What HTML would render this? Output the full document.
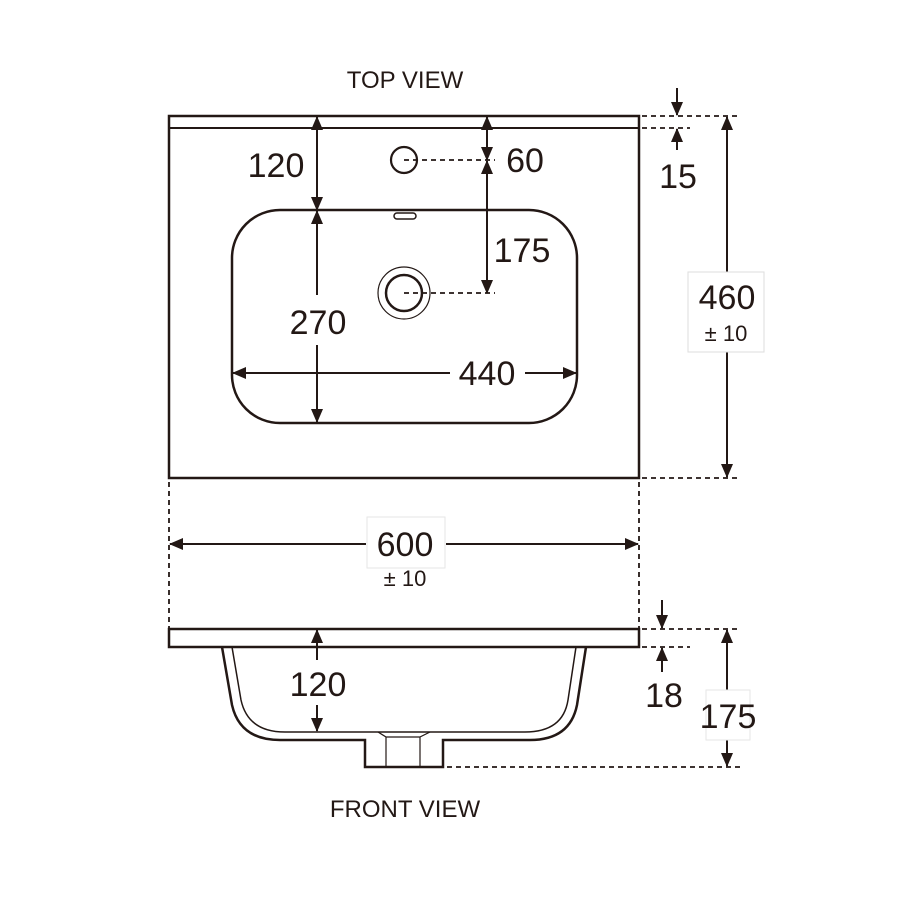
<!DOCTYPE html>
<html><head><meta charset="utf-8"><style>
html,body{margin:0;padding:0;background:#fff;}
svg{display:block}
text{font-family:"Liberation Sans",sans-serif;fill:#231815}
</style></head><body>
<svg width="900" height="900" viewBox="0 0 900 900" xmlns="http://www.w3.org/2000/svg">
<defs>
<marker id="a" viewBox="0 0 14 12" refX="13" refY="6" markerWidth="14" markerHeight="12" markerUnits="userSpaceOnUse" orient="auto"><path d="M0,0 L14,6 L0,12 z" fill="#231815"/></marker>
</defs>
<g stroke="#231815" fill="none">
<!-- top view -->
<rect x="169" y="116" width="470" height="362" stroke-width="2.5"/>
<line x1="169" y1="128" x2="639" y2="128" stroke-width="2"/>
<rect x="232" y="210" width="345" height="213" rx="48" ry="48" stroke-width="2.5"/>
<rect x="394" y="213" width="22" height="6" rx="3" stroke-width="1.5"/>
<circle cx="404" cy="160" r="13" stroke-width="2.2"/>
<circle cx="404" cy="293" r="26" stroke-width="1.2"/>
<circle cx="404" cy="293" r="18" stroke-width="2.5"/>
<g stroke-dasharray="5,4" stroke-width="1.8">
<line x1="404" y1="160" x2="495" y2="160"/>
<line x1="404" y1="293" x2="495" y2="293"/>
<line x1="642" y1="116" x2="740" y2="116"/>
<line x1="642" y1="128" x2="690" y2="128"/>
<line x1="642" y1="478" x2="740" y2="478"/>
<line x1="169" y1="482" x2="169" y2="628"/>
<line x1="639" y1="482" x2="639" y2="628"/>
<line x1="642" y1="629" x2="740" y2="629"/>
<line x1="642" y1="647" x2="690" y2="647"/>
<line x1="420" y1="767" x2="740" y2="767"/>
</g>
<g stroke-width="2" marker-end="url(#a)">
<line x1="317" y1="165" x2="317" y2="210"/>
<line x1="317" y1="165" x2="317" y2="117"/>
<line x1="317" y1="295" x2="317" y2="211"/>
<line x1="317" y1="345" x2="317" y2="422"/>
<line x1="487" y1="140" x2="487" y2="160"/>
<line x1="487" y1="140" x2="487" y2="117"/>
<line x1="487" y1="230" x2="487" y2="161"/>
<line x1="487" y1="230" x2="487" y2="293"/>
<line x1="450" y1="373" x2="233" y2="373"/>
<line x1="525" y1="373" x2="576" y2="373"/>
<line x1="677" y1="88" x2="677" y2="115"/>
<line x1="677" y1="150" x2="677" y2="129"/>
<line x1="727" y1="272" x2="727" y2="117"/>
<line x1="727" y1="352" x2="727" y2="477"/>
<line x1="366" y1="544" x2="170" y2="544"/>
<line x1="446" y1="544" x2="638" y2="544"/>
<line x1="662" y1="600" x2="662" y2="628"/>
<line x1="662" y1="672" x2="662" y2="648"/>
<line x1="727" y1="690" x2="727" y2="630"/>
<line x1="727" y1="740" x2="727" y2="766"/>
<line x1="317" y1="660" x2="317" y2="630"/>
<line x1="317" y1="705" x2="317" y2="731"/>
</g>
<!-- front view -->
<rect x="169" y="629" width="470" height="18" stroke-width="2.5"/>
<path d="M222,647 L232,705 Q240,740 280,740 L365,740 L365,767 L443,767 L443,740 L530,740 Q570,740 577,705 L586,647" stroke-width="2.5"/>
<path d="M232,647 L241,700 Q248,732 285,732 L525,732 Q563,732 568,700 L576,647" stroke-width="1.5"/>
<path d="M378,732 L386,737 L386,767 M430,732 L420,737 L420,767 M386,737 L420,737" stroke-width="1.2"/>
<rect x="688" y="272" width="76" height="80" stroke="#ddd" stroke-width="1"/>
<rect x="367" y="517" width="78" height="51" stroke="#e6e6e6" stroke-width="1"/>
<rect x="706" y="690" width="44" height="50" stroke="#e6e6e6" stroke-width="1"/>
</g>
<g font-size="34" text-anchor="middle">
<text x="276" y="177">120</text>
<text x="318" y="334">270</text>
<text x="525" y="172">60</text>
<text x="522" y="262">175</text>
<text x="487" y="385">440</text>
<text x="678" y="188">15</text>
<text x="727" y="309">460</text>
<text x="405" y="556">600</text>
<text x="318" y="696">120</text>
<text x="664" y="707">18</text>
<text x="728" y="728">175</text>
</g>
<g font-size="22" text-anchor="middle">
<text x="726" y="341">± 10</text>
<text x="405" y="586">± 10</text>
<text x="405" y="88" font-size="24">TOP VIEW</text>
<text x="405" y="817" font-size="24">FRONT VIEW</text>
</g>
</svg>
</body></html>
